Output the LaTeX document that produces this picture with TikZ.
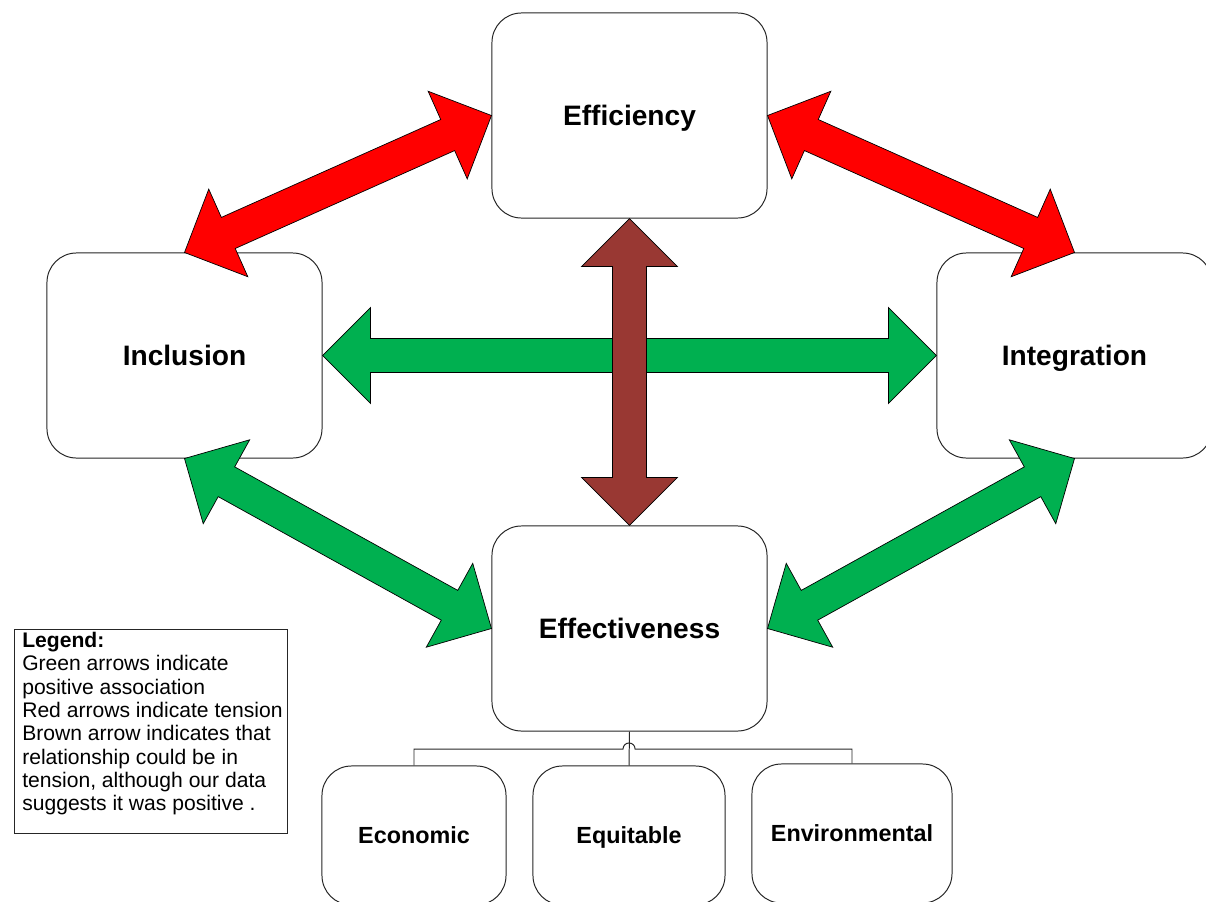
\documentclass[tikz,border=0pt]{standalone}
\usepackage{fontspec}
\setmainfont{Liberation Sans}
\usetikzlibrary{calc}
\definecolor{arrowgreen}{RGB}{0,176,80}
\definecolor{arrowbrown}{RGB}{153,56,51}

\begin{document}
\begin{tikzpicture}[x=0.025cm,y=-0.025cm,
	big_node/.style={rectangle,rounded corners=21pt,draw=black!85,line width=0.7pt,fill=white,minimum width=6.875cm,minimum height=5.125cm,text height=14.4pt,text depth=0pt,font=\bfseries\fontsize{20}{24}\selectfont},
	small_node/.style={rectangle,rounded corners=21pt,draw=black!85,line width=0.7pt,fill=white,minimum height=3.475cm,text height=12pt,text depth=0pt,font=\bfseries\fontsize{16.6}{20}\selectfont},
	legend_node/.style={align=left,inner sep=0pt,font=\fontsize{15}{16.6}\selectfont},
	fat_arrow/.style={draw=black,line width=0.5pt,to path={
		let \p1=($(\tikztotarget)-(\tikztostart)$), \n1={atan2(\y1,\x1)}, \n2={veclen(\x1,\y1)} in
		[shift={(\tikztostart)},rotate=\n1]
		(0pt,0pt) -- (34.1pt,34.1pt) -- (34.1pt,12.1pt) -- ({\n2*1pt-34.1pt},12.1pt) -- ({\n2*1pt-34.1pt},34.1pt)
		-- ({\n2*1pt},0pt) -- ({\n2*1pt-34.1pt},-34.1pt) -- ({\n2*1pt-34.1pt},-12.1pt) -- (34.1pt,-12.1pt) -- (34.1pt,-34.1pt) -- cycle}}]

		\useasboundingbox (0,0) rectangle (1206,902);
		\clip (0,0) rectangle (1206,902);

		\node[big_node] (1) at (629.5,115.5) {Efficiency};
		\node[big_node] (2) at (184.5,355.5) {Inclusion};
		\node[big_node] (3) at (1074.5,355.5) {Integration};
		\node[big_node] (4) at (629.5,628.5) {Effectiveness};
		\node[small_node,minimum width=4.6cm] (5) at (414,835.5) {Economic};
		\node[small_node,minimum width=4.8cm] (6) at (629,835.5) {Equitable};
		\node[small_node,minimum width=5cm] (7) at (852,833.5) {Environmental};

		% tree under Effectiveness, the cross line hops over the middle branch
		\coordinate (hop) at (629,749);
		\draw[black!85,line width=0.7pt] (4.south) -- (6.north);
		\draw[black!85,line width=0.7pt] (5.north) |- ($(hop)+(-6,0)$) arc[start angle=180,end angle=0,radius=4.3pt] -| (7.north);

		\path[fat_arrow,fill=red] (2.north) to (1.west);
		\path[fat_arrow,fill=red] (1.east) to (3.north);
		\path[fat_arrow,fill=arrowgreen] (2.east) to (3.west);
		\path[fat_arrow,fill=arrowgreen] (2.south) to (4.west);
		\path[fat_arrow,fill=arrowgreen] (4.east) to (3.south);
		\path[fat_arrow,fill=arrowbrown] (1.south) to (4.north);

		% legend
		\draw[black!85,line width=0.7pt] (14,629) rectangle (287,833);
		\node[legend_node,anchor=north west] (8) at (22,632) {\textbf{Legend:}\\Green arrows indicate\\positive association\\Red arrows indicate tension\\Brown arrow indicates that\\relationship could be in\\tension, although our data\\suggests it was positive .};
		\end{tikzpicture}
\end{document}
